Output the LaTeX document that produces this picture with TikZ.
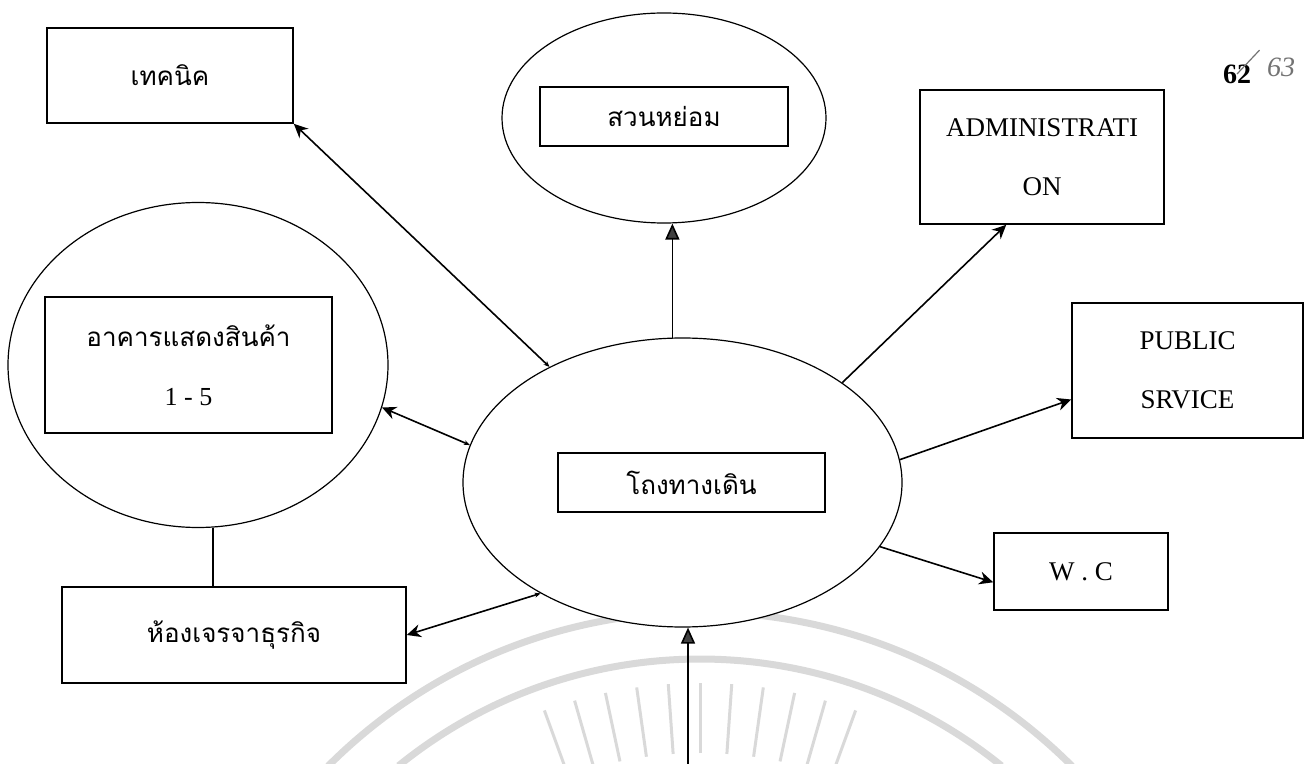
\documentclass[tikz,border=0pt]{standalone}
\usepackage{fontspec}
\setmainfont{Liberation Serif}
\newfontfamily\thaifont[Script=Thai]{Loma}
\usetikzlibrary{shapes.geometric,arrows.meta}

\begin{document}
\begin{tikzpicture}
  [x=0.5pt,y=-0.5pt,line width=0.8pt,
   box/.style={draw,rectangle,inner sep=0pt,align=center,font=\fontsize{13.5}{29.5}\selectfont},
   thbox/.style={box,font=\thaifont\fontsize{13}{29.5}\selectfont},
   ring/.style={draw,ellipse,inner sep=0pt,line width=0.6pt},
   arr/.style={-{Stealth[length=7pt,width=6.5pt]}},
   biarr/.style={{Stealth[length=3pt,width=2.5pt]}-{Stealth[length=7pt,width=6.5pt]}},
   tri/.style={-{Triangle[length=8pt,width=7pt,fill=black!75]}},
   seal/.style={draw=black!15,line width=3.5pt},
   ray/.style={draw=black!15,line width=1.5pt}]

  \useasboundingbox (0,0) rectangle (1310,764);

  % faint seal at the bottom
  \draw[seal] (700,1138) ++(225:526) arc[start angle=225,end angle=315,radius=526];
  \draw[seal] (700,1138) ++(231:479) arc[start angle=231,end angle=309,radius=479];
  \foreach \a in {250,254,...,290}
    \draw[ray] (700,1138) ++(\a:385) -- ++(\a:70);

  % rings
  \node[ring,minimum width=162pt,minimum height=105pt] (gardenring) at (664,118) {};
  \node[ring,minimum width=190pt,minimum height=162.5pt] (showring) at (198,365) {};
  \node[ring,minimum width=219.5pt,minimum height=144.5pt,fill=white] (hall) at (682.5,482.5) {};

  % boxes
  \node[thbox,minimum width=123pt,minimum height=47.5pt] (tech) at (170,75.5) {เทคนิค};
  \node[thbox,minimum width=124pt,minimum height=29.5pt] (garden) at (664,116.5) {สวนหย่อม};
  \node[box,minimum width=122pt,minimum height=67pt] (admin) at (1042,157) {ADMINISTRATI\\ON};
  \node[box,minimum width=115.5pt,minimum height=67.5pt] (public) at (1187.5,370.5) {PUBLIC\\SRVICE};
  \node[box,minimum width=87pt,minimum height=38.5pt] (wc) at (1081,571.5) {W . C};
  \node[thbox,minimum width=133.5pt,minimum height=29.5pt] (hallbox) at (691.5,482.5) {โถงทางเดิน};
  \node[thbox,minimum width=143.5pt,minimum height=68pt] (show) at (188.5,365) {อาคารแสดงสินค้า\\{\fontspec{Liberation Serif}1 - 5}};
  \node[thbox,minimum width=172pt,minimum height=48pt] (business) at (234,635) {ห้องเจรจาธุรกิจ};

  % page number
  \node[font=\bfseries\fontsize{14}{16}\selectfont] (pg) at (1237,74) {62};
  \node[font=\itshape\fontsize{14}{16}\selectfont,text=black!55] (pgnew) at (1281,67) {63};
  \draw[black!55,line width=0.6pt] (pg.center) -- (pgnew.north west);

  % connectors
  \coordinate (entry) at (688,764);
  \draw[tri] (entry) -- (entry |- hall.south);
  \draw[tri] (hall.94) -- (hall.94 |- gardenring.south);
  \draw[biarr] (hall.139) -- (tech.south east);
  \draw[arr] (hall.32.5) -- ([xshift=43.5pt]admin.south west);
  \draw[arr] (hall.6) -- (public.194.3);
  \draw[arr] (hall.-18.5) -- (wc.187);
  \draw[biarr] (hall.170.6) -- (showring.-13.7);
  \draw[biarr] (hall.218) -- (business.east);
  \draw ([xshift=7.5pt]showring.south) -- ([xshift=7.5pt]showring.south |- business.north);
\end{tikzpicture}
\end{document}
